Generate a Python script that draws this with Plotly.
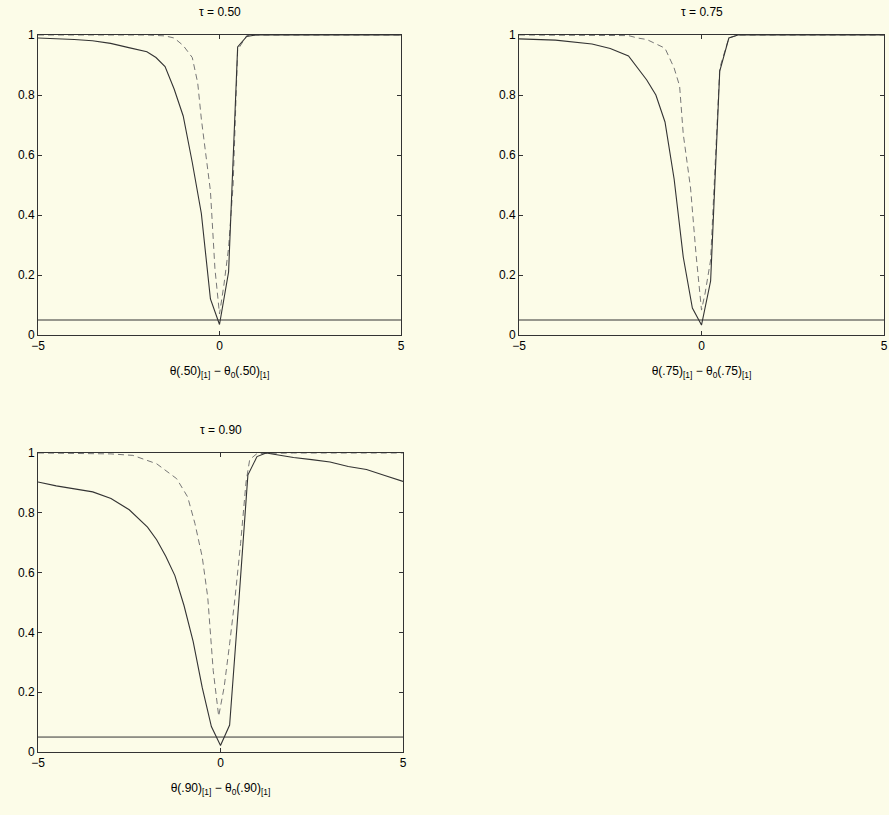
import plotly.graph_objects as go

# ── data ─────────────────────────────────────────────────────────────────────
x_solid_50 = [-5, -4.5, -4, -3.5, -3, -2.5, -2, -1.75, -1.5, -1.25, -1, -0.75, -0.5, -0.25, 0, 0.25, 0.5, 0.75, 1, 2, 3, 4, 5]
y_solid_50 = [0.99, 0.988, 0.985, 0.981, 0.972, 0.958, 0.944, 0.925, 0.895, 0.82, 0.73, 0.575, 0.405, 0.12, 0.035, 0.21, 0.96, 0.995, 1.0, 1.0, 1.0, 1.0, 1.0]
x_dash_50 = [-5, -4, -3, -2, -1.5, -1.25, -1, -0.75, -0.6, -0.5, -0.25, -0.125, 0, 0.125, 0.25, 0.375, 0.5, 0.75, 1, 2, 3, 4, 5]
y_dash_50 = [1.0, 1.0, 1.0, 1.0, 0.997, 0.99, 0.965, 0.925, 0.84, 0.72, 0.48, 0.22, 0.07, 0.17, 0.29, 0.5, 0.95, 0.998, 1.0, 1.0, 1.0, 1.0, 1.0]

x_solid_75 = [-5, -4, -3, -2.5, -2, -1.5, -1.25, -1, -0.75, -0.5, -0.25, 0, 0.25, 0.5, 0.75, 1, 2, 3, 4, 5]
y_solid_75 = [0.987, 0.983, 0.97, 0.955, 0.93, 0.85, 0.8, 0.71, 0.52, 0.26, 0.09, 0.033, 0.18, 0.88, 0.99, 1.0, 1.0, 1.0, 1.0, 1.0]
x_dash_75 = [-5, -4, -3, -2, -1.75, -1.5, -1, -0.75, -0.6, -0.5, -0.3, -0.15, 0, 0.1, 0.25, 0.5, 0.75, 1, 2, 3, 4, 5]
y_dash_75 = [1.0, 1.0, 1.0, 0.998, 0.99, 0.985, 0.956, 0.89, 0.83, 0.67, 0.49, 0.27, 0.083, 0.14, 0.25, 0.89, 0.99, 1.0, 1.0, 1.0, 1.0, 1.0]

x_solid_90 = [-5, -4.5, -4, -3.5, -3, -2.5, -2, -1.75, -1.5, -1.25, -1, -0.75, -0.5, -0.25, 0, 0.25, 0.5, 0.75, 1, 1.25, 1.5, 2, 2.5, 3, 3.5, 4, 4.5, 5]
y_solid_90 = [0.903, 0.89, 0.88, 0.87, 0.848, 0.81, 0.752, 0.71, 0.655, 0.59, 0.49, 0.37, 0.215, 0.085, 0.022, 0.09, 0.5, 0.926, 0.988, 1.0, 0.995, 0.985, 0.978, 0.97, 0.955, 0.945, 0.925, 0.905]
x_dash_90 = [-5, -4, -3, -2.4, -1.75, -1.2, -0.9, -0.7, -0.5, -0.35, -0.2, -0.05, 0.1, 0.25, 0.4, 0.55, 0.7, 0.8, 1, 2, 3, 4, 5]
y_dash_90 = [1.0, 0.999, 0.997, 0.992, 0.964, 0.914, 0.853, 0.764, 0.652, 0.518, 0.273, 0.12, 0.217, 0.362, 0.518, 0.697, 0.903, 0.978, 0.998, 1.0, 1.0, 1.0, 1.0]

level = 0.05
x_ticks = [-5, 0, 5]
y_ticks = [0, 0.2, 0.4, 0.6, 0.8, 1]
y_tick_text = ["0", "0.2", "0.4", "0.6", "0.8", "1"]

panels = [
    ("0.50", ".50", x_solid_50, y_solid_50, x_dash_50, y_dash_50),
    ("0.75", ".75", x_solid_75, y_solid_75, x_dash_75, y_dash_75),
    ("0.90", ".90", x_solid_90, y_solid_90, x_dash_90, y_dash_90),
]

BG = "#fcfce8"
W, H = 889, 815
# pixel boxes of the three panels (left, right, top, bottom)
boxes = [(38, 401, 35, 335), (519, 884, 35, 335), (38, 403, 453, 752)]

fig = go.Figure()
layout = dict(
    width=W, height=H,
    paper_bgcolor=BG, plot_bgcolor=BG,
    margin=dict(l=0, r=0, t=0, b=0, autoexpand=False),
    font=dict(family="Liberation Sans, Arial, sans-serif", size=12, color="black"),
    showlegend=False,
    annotations=[],
)

for i, (tau, q, xs, ys, xd, yd) in enumerate(panels):
    n = "" if i == 0 else str(i + 1)
    l, r, t, b = boxes[i]
    xdom = [l / W, r / W]
    ydom = [(H - b) / H, (H - t) / H]
    xa, ya = "x" + n, "y" + n

    fig.add_trace(go.Scatter(x=[-5, 5], y=[level, level], mode="lines",
                             line=dict(color="#333333", width=1), xaxis=xa, yaxis=ya))
    fig.add_trace(go.Scatter(x=xd, y=yd, mode="lines",
                             line=dict(color="#777777", width=1, dash="6px,4px"), xaxis=xa, yaxis=ya))
    fig.add_trace(go.Scatter(x=xs, y=ys, mode="lines",
                             line=dict(color="#333333", width=1.1), xaxis=xa, yaxis=ya))

    axis_common = dict(showline=True, linecolor="#333333", linewidth=1, mirror="ticks",
                       ticks="inside", ticklen=4, tickcolor="#333333", showgrid=False,
                       zeroline=False, tickfont=dict(size=12), automargin=False)
    layout["xaxis" + n] = dict(domain=xdom, range=[-5, 5], anchor=ya,
                               tickvals=x_ticks, **axis_common,
                               title=dict(text=f"θ({q})<sub>[1]</sub> − θ<sub>0</sub>({q})<sub>[1]</sub>",
                                          standoff=14, font=dict(size=12)))
    layout["yaxis" + n] = dict(domain=ydom, range=[0, 1], anchor=xa,
                               tickvals=y_ticks, ticktext=y_tick_text, **axis_common)
    layout["annotations"].append(dict(
        text=f"τ = {tau}", x=(xdom[0] + xdom[1]) / 2, y=ydom[1],
        xref="paper", yref="paper", xanchor="center", yanchor="bottom",
        yshift=14, showarrow=False, font=dict(size=12)))

fig.update_layout(**layout)
fig.write_html("out.html", config={"displayModeBar": False},
               post_script=f"document.body.style.margin='0';document.body.style.background='{BG}';")
